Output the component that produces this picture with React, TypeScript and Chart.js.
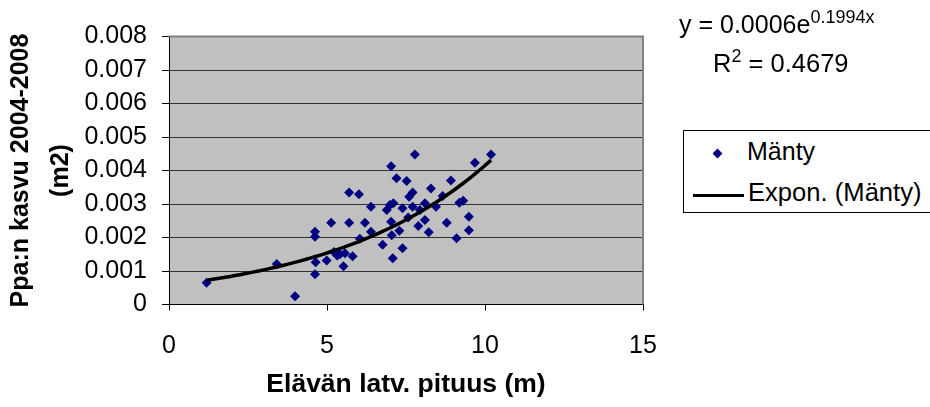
import React, { useEffect, useRef } from "react";
import { Chart, registerables } from "chart.js";

Chart.register(...registerables);

// Scatter data (Mänty): crown length (m) vs basal-area growth 2004-2008 (m2)
const MANTY_X = [
  1.19, 3.41, 3.99, 4.62, 4.62, 4.64, 4.62, 4.99, 5.13, 5.22, 5.32, 5.41, 5.52, 5.57,
  5.7, 5.7, 5.81, 6.01, 6.04, 6.2, 6.39, 6.39, 6.76, 6.89, 6.99, 7.03, 7.03, 7.05,
  7.08, 7.1, 7.2, 7.29, 7.39, 7.39, 7.52, 7.57, 7.6, 7.71, 7.71, 7.78, 7.89, 7.94,
  8.1, 8.1, 8.22, 8.29, 8.45, 8.66, 8.79, 8.92, 9.1, 9.19, 9.31, 9.49, 9.49, 9.68, 10.19,
];
const MANTY_Y = [
  0.00065, 0.00121, 0.00025, 0.00217, 0.00202, 0.00126, 0.0009, 0.00131, 0.00244,
  0.00157, 0.00146, 0.0015, 0.00114, 0.00153, 0.00244, 0.00334, 0.00144, 0.00329,
  0.00196, 0.00244, 0.00292, 0.00217, 0.00178, 0.00282, 0.00297, 0.00413, 0.00247,
  0.00207, 0.00138, 0.00302, 0.00377, 0.0022, 0.00287, 0.00168, 0.00369, 0.0026,
  0.00322, 0.00334, 0.00292, 0.00448, 0.00234, 0.00282, 0.00252, 0.00302, 0.00216,
  0.00346, 0.00292, 0.00324, 0.00244, 0.0037, 0.00198, 0.00304, 0.0031, 0.00262,
  0.00222, 0.00423, 0.00448,
];

const X_TICKS = ["0", "5", "10", "15"];
const Y_TICKS = ["0", "0.001", "0.002", "0.003", "0.004", "0.005", "0.006", "0.007", "0.008"];

const SERIES_NAME = "Mänty";
const TREND_NAME = "Expon. (Mänty)";
const X_TITLE = "Elävän latv. pituus (m)";
const Y_TITLE = ["Ppa:n kasvu 2004-2008", "(m2)"];
const EQ_MAIN = "y = 0.0006e";
const EQ_EXP = "0.1994x";
const R2_VALUE = "0.4679";

const FONT = '"Liberation Sans", Arial, sans-serif';

// Exponential trendline: least-squares fit of ln(y) on x (as Excel does)
function expFit(xs: number[], ys: number[]) {
  const n = xs.length;
  let sx = 0, sy = 0, sxx = 0, sxy = 0;
  for (let i = 0; i < n; i++) {
    const ly = Math.log(ys[i]);
    sx += xs[i];
    sy += ly;
    sxx += xs[i] * xs[i];
    sxy += xs[i] * ly;
  }
  const b = (n * sxy - sx * sy) / (n * sxx - sx * sx);
  const lnA = (sy - b * sx) / n;
  return { a: Math.exp(lnA), b };
}

const plotBg = {
  id: "plotBg",
  beforeDraw(chart: any) {
    const { ctx, chartArea } = chart;
    ctx.save();
    ctx.fillStyle = "#C0C0C0";
    ctx.fillRect(chartArea.left, chartArea.top, chartArea.right - chartArea.left, chartArea.bottom - chartArea.top);
    ctx.restore();
  },
  afterDatasetsDraw(chart: any) {
    const { ctx, chartArea } = chart;
    ctx.save();
    ctx.strokeStyle = "#808080";
    ctx.lineWidth = 2;
    ctx.beginPath();
    ctx.moveTo(chartArea.left, chartArea.top);
    ctx.lineTo(chartArea.right, chartArea.top);
    ctx.lineTo(chartArea.right, chartArea.bottom);
    ctx.stroke();
    ctx.restore();
  },
};

export default function App() {
  const ref = useRef<HTMLCanvasElement>(null);

  useEffect(() => {
    if (!ref.current) return;
    const pts = MANTY_X.map((x, i) => ({ x, y: MANTY_Y[i] }));
    const { a, b } = expFit(MANTY_X, MANTY_Y);
    const xmin = Math.min(...MANTY_X);
    const xmax = Math.max(...MANTY_X);
    const trend: { x: number; y: number }[] = [];
    const N = 60;
    for (let i = 0; i <= N; i++) {
      const x = xmin + ((xmax - xmin) * i) / N;
      trend.push({ x, y: a * Math.exp(b * x) });
    }

    const chart = new Chart(ref.current, {
      type: "scatter",
      data: {
        datasets: [
          {
            label: TREND_NAME,
            type: "line",
            data: trend,
            borderColor: "#000000",
            borderWidth: 3.5,
            pointRadius: 0,
            showLine: true,
            fill: false,
            tension: 0,
            order: 1,
          } as any,
          {
            label: SERIES_NAME,
            data: pts,
            pointStyle: "rectRot",
            pointRadius: 5,
            pointBackgroundColor: "#000080",
            pointBorderColor: "#000080",
            pointBorderWidth: 0,
            showLine: false,
            order: 2,
          } as any,
        ],
      },
      options: {
        responsive: false,
        animation: false,
        layout: { padding: { left: 0, top: 36.5, right: 287, bottom: 0 } },
        plugins: { legend: { display: false }, tooltip: { enabled: false } },
        scales: {
          x: {
            type: "linear",
            min: 0,
            max: 15,
            afterFit: (s: any) => {
              s.height = 102.5;
            },
            ticks: {
              stepSize: 5,
              color: "#000",
              padding: 21,
              font: { family: FONT, size: 25 },
              callback: (v: any) => X_TICKS[Math.round(Number(v) / 5)] ?? "",
            },
            grid: {
              drawOnChartArea: false,
              drawTicks: true,
              tickLength: 6,
              tickColor: "#000",
              color: "#000",
            },
            border: { display: true, color: "#000", width: 1 },
            title: {
              display: true,
              text: X_TITLE,
              color: "#000",
              font: { family: FONT, size: 26.5, weight: "bold" },
              padding: { top: 0, bottom: 6 },
            },
          },
          y: {
            type: "linear",
            min: 0,
            max: 0.008,
            afterFit: (s: any) => {
              s.width = 169;
            },
            ticks: {
              stepSize: 0.001,
              color: "#000",
              padding: 15,
              font: { family: FONT, size: 25 },
              callback: (v: any) => Y_TICKS[Math.round(Number(v) * 1000)] ?? "",
            },
            grid: {
              drawOnChartArea: true,
              drawTicks: true,
              tickLength: 7,
              tickColor: "#000",
              color: "#303030",
              lineWidth: 1,
            },
            border: { display: true, color: "#000", width: 1 },
            title: {
              display: true,
              text: Y_TITLE,
              color: "#000",
              font: { family: FONT, size: 25, weight: "bold", lineHeight: 1.6 },
              padding: { top: 1, bottom: 0 },
            },
          },
        },
      },
      plugins: [plotBg],
    });
    return () => chart.destroy();
  }, []);

  const txt: React.CSSProperties = {
    position: "absolute",
    fontFamily: FONT,
    fontSize: 25,
    lineHeight: "25px",
    color: "#000",
    whiteSpace: "nowrap",
  };

  return (
    <div style={{ position: "absolute", left: 0, top: 0, width: 930, height: 407, background: "#fff", overflow: "hidden" }}>
      <canvas ref={ref} width={930} height={407} style={{ width: 930, height: 407, display: "block" }} />
      <div style={{ ...txt, left: 679, top: 12 }}>
        {EQ_MAIN}
        <span style={{ fontSize: 18, position: "relative", top: -10 }}>{EQ_EXP}</span>
      </div>
      <div style={{ ...txt, left: 713, top: 51, fontSize: 25.5 }}>
        R<span style={{ fontSize: 18, position: "relative", top: -10 }}>2</span> = {R2_VALUE}
      </div>
      <div
        style={{
          position: "absolute",
          left: 683,
          top: 130,
          width: 320,
          height: 81,
          border: "1px solid #000",
          background: "#fff",
        }}
      >
        <div
          style={{
            position: "absolute",
            left: 30,
            top: 19,
            width: 7,
            height: 7,
            background: "#000080",
            transform: "rotate(45deg)",
          }}
        />
        <div style={{ ...txt, left: 63, top: 8 }}>{SERIES_NAME}</div>
        <div style={{ position: "absolute", left: 9, top: 63, width: 51, height: 3, background: "#000" }} />
        <div style={{ ...txt, left: 64, top: 49, fontSize: 25.6 }}>{TREND_NAME}</div>
      </div>
    </div>
  );
}
